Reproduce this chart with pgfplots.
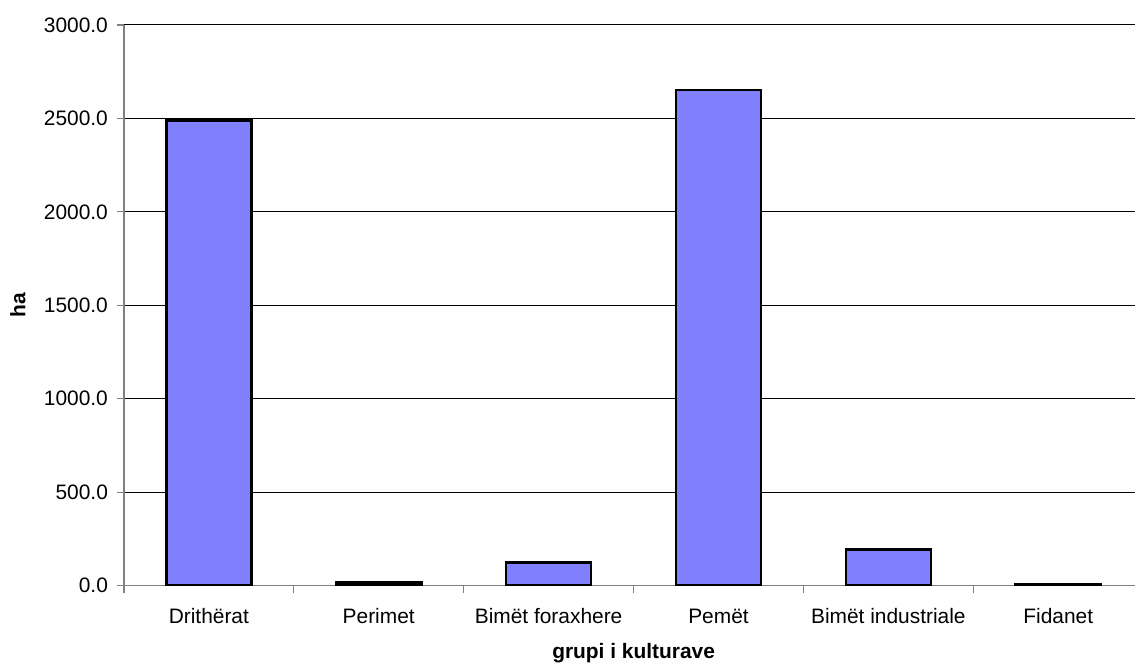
\documentclass[border=0pt]{standalone}
\usepackage{pgfplots}
\pgfplotsset{compat=1.18}
\usetikzlibrary{calc}
\usepackage{fontspec}
\setmainfont{Liberation Sans}
\definecolor{barblue}{RGB}{128,128,255}
\definecolor{axisgray}{RGB}{128,128,128}

\begin{document}
\begin{tikzpicture}[x=1bp,y=1bp]
\begin{axis}[
    name=ax,
    scale only axis,
    width=506bp,
    height=280.5bp,
    ymin=0, ymax=3000,
    xmin=-0.5, xmax=5.453,
    ytick={0,500,...,3000},
    xtick={0,...,5},
    xticklabels={Drithërat, Perimet, Bimët foraxhere, Pemët, Bimët industriale, Fidanet},
    minor xtick={-0.5,0.5,...,4.5},
    major x tick style={draw=none},
    tick align=outside,
    major tick length=3.5bp,
    minor tick length=3.5bp,
    tick style={axisgray, line width=0.6bp},
    axis x line*=bottom,
    axis y line*=left,
    axis line style={axisgray, line width=0.8bp},
    ymajorgrids,
    major grid style={black, line width=0.5bp},
    /pgf/number format/assume math mode=true,
    /pgf/number format/fixed,
    /pgf/number format/fixed zerofill,
    /pgf/number format/precision=1,
    /pgf/number format/1000 sep={},
    tick label style={font=\fontsize{10.5}{12}\selectfont, text=black},
    yticklabel style={xshift=-1bp},
    xticklabel style={anchor=base, yshift=-15.5bp},
    label style={font=\bfseries\fontsize{10.5}{12}\selectfont},
    xlabel={grupi i kulturave},
    ylabel={ha},
    xlabel style={at={(axis description cs:0.504,0)}, anchor=base, yshift=-36.5bp},
    ylabel style={at={(axis description cs:0,0.5)}, anchor=center, yshift=53bp},
    ybar,
    bar width=42.5bp,
]
\addplot[fill=barblue, draw=black, line width=1.3bp] coordinates {
    (0, 2490)
    (1, 15)
    (2, 125)
    (3, 2652)
    (4, 192)
    (5, 5)
};
\end{axis}
\path[use as bounding box] ($(ax.south west)+(-62bp,-39bp)$) rectangle ($(ax.north east)+(0,12.5bp)$);
\end{tikzpicture}
\end{document}
